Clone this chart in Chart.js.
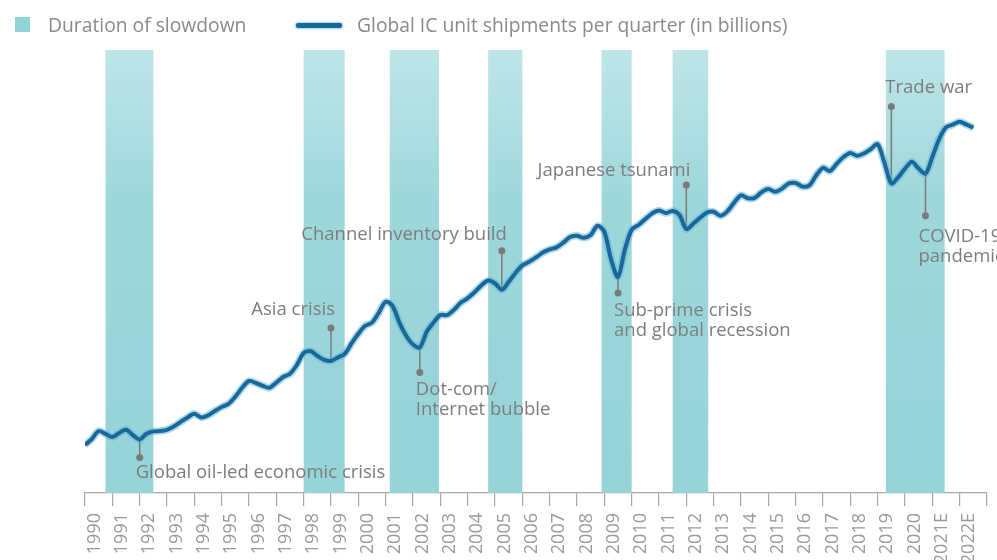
<!DOCTYPE html>
<html lang="en">
<head>
    <meta charset="UTF-8">
    <title>Global IC unit shipments</title>
    <script src="https://cdn.jsdelivr.net/npm/chart.js"></script>
    <style>
        body { margin: 0; background: #fff; font-family: 'Open Sans', sans-serif; }
        .wrap { position: relative; width: 997px; height: 560px; }
        .legend { position: absolute; top: 0; left: 0; width: 100%; height: 50px; color: #8a8a8a; font-size: 19.3px; }
        .legend span { position: absolute; line-height: 26px; top: 12px; white-space: nowrap; }
        .swatch { position: absolute; left: 15px; top: 17px; width: 15px; height: 15px; background: #8fd3d6; }
        .stroke { position: absolute; left: 296px; top: 23px; width: 46px; height: 5px; border-radius: 2px; background: #1b6898; box-shadow: 0 0 2px 1px rgba(90,180,225,0.6); }
    </style>
</head>
<body>
<div class="wrap">
    <canvas id="icChart" width="997" height="560"></canvas>
    <div class="legend">
        <div class="swatch"></div>
        <span style="left:48px">Duration of slowdown</span>
        <div class="stroke"></div>
        <span style="left:357px">Global IC unit shipments per quarter (in billions)</span>
    </div>
</div>

<script>
    // year labels on the axis
    const yearLabels = ['1990', '1991', '1992', '1993', '1994', '1995', '1996', '1997', '1998', '1999',
        '2000', '2001', '2002', '2003', '2004', '2005', '2006', '2007', '2008', '2009',
        '2010', '2011', '2012', '2013', '2014', '2015', '2016', '2017', '2018', '2019',
        '2020', '2021E', '2022E'];

    // quarterly shipments, starting 1990 Q1
    const shipments = [
        12.0, 13.5, 15.5, 14.8,   14.0, 15.0, 15.8, 14.5,   13.4, 14.8, 15.4, 15.5,   // 1990-92
        15.8, 16.6, 17.8, 18.9,   19.8, 18.9, 19.4, 20.5,   21.5, 22.3, 24.1, 26.3,   // 1993-95
        28.0, 27.5, 26.8, 26.3,   27.6, 29.0, 29.8, 32.0,   35.0, 35.5, 34.3, 33.3,   // 1996-98
        33.0, 33.9, 34.8, 37.4,   39.8, 41.8, 42.6, 45.1,   47.8, 46.8, 42.6, 39.3,   // 1999-01
        37.1, 36.4, 40.3, 42.6,   44.5, 44.5, 45.8, 47.6,   48.7, 50.2, 51.9, 53.1,   // 2002-04
        52.4, 50.8, 52.8, 55.0,   56.9, 57.8, 58.9, 60.1,   60.9, 61.4, 62.6, 64.0,   // 2005-07
        64.3, 63.8, 64.5, 66.8,   65.3, 58.3, 54.0, 60.8,   65.8, 67.0, 68.5, 69.9,   // 2008-10
        70.6, 70.0, 70.5, 69.5,   66.0, 67.3, 68.8, 70.1,   70.3, 69.3, 70.4, 72.6,   // 2011-13
        74.4, 73.7, 73.8, 75.2,   76.0, 75.3, 76.1, 77.4,   77.5, 76.6, 76.9, 79.4,   // 2014-16
        81.3, 80.5, 82.3, 84.0,   85.0, 84.3, 84.9, 86.0,   87.2, 82.5, 77.4, 78.9,   // 2017-19
        81.1, 82.8, 81.1, 79.8,   84.0, 88.5, 91.4, 92.1,   92.8, 92.1, 91.3            // 2020-22
    ];

    // slowdown periods, in fractional years
    const slowdownStart = [1990.75, 1998.0, 2001.15, 2004.75, 2008.9, 2011.5, 2019.3];
    const slowdownEnd = [1992.5, 1999.5, 2002.95, 2006.0, 2010.0, 2012.8, 2021.45];

    // events and the quarter (index into shipments) each one points at
    const eventNames = [
        ['Global oil-led economic crisis'],
        ['Asia crisis'],
        ['Dot-com/', 'Internet bubble'],
        ['Channel inventory build'],
        ['Sub-prime crisis', 'and global recession'],
        ['Japanese tsunami'],
        ['Trade war'],
        ['COVID-19', 'pandemic']
    ];
    const eventQuarter = [8, 36, 49, 61, 78, 88, 118, 123];

    // where the pin dot and the text sit relative to the curve
    const notePlacement = [
        { dot: 18, align: 'left', dx: -4, dy: 15 },
        { dot: -33, align: 'right', dx: 4, dy: -18 },
        { dot: 25, align: 'left', dx: -4, dy: 17 },
        { dot: -39, align: 'right', dx: 5, dy: -16 },
        { dot: 16, align: 'left', dx: -4, dy: 18 },
        { dot: -44, align: 'right', dx: 4, dy: -14 },
        { dot: -77, align: 'left', dx: -6, dy: -19 },
        { dot: 42, align: 'left', dx: -7, dy: 21 }
    ];

    const points = shipments.map((v, i) => ({ x: 1990 + i / 4, y: v }));

    const slowdownBands = {
        id: 'slowdownBands',
        beforeDatasetsDraw(chart) {
            const { ctx, chartArea: { top, bottom } } = chart;
            const xs = chart.scales.x2;
            const grad = ctx.createLinearGradient(0, top, 0, bottom);
            grad.addColorStop(0, '#bee5e7');
            grad.addColorStop(0.35, '#9dd7da');
            grad.addColorStop(1, '#96d4d7');
            ctx.save();
            ctx.fillStyle = grad;
            slowdownStart.forEach((s, k) => {
                const x0 = xs.getPixelForValue(s);
                const x1 = xs.getPixelForValue(slowdownEnd[k]);
                ctx.fillRect(x0, top, x1 - x0, bottom - top);
            });
            ctx.restore();
        }
    };

    const eventPins = {
        id: 'eventPins',
        beforeDatasetsDraw(chart) {
            const ctx = chart.ctx;
            const meta = chart.getDatasetMeta(0);
            ctx.save();
            ctx.font = "18.5px 'Open Sans'";
            ctx.textBaseline = 'middle';
            eventQuarter.forEach((q, k) => {
                const pt = meta.data[q];
                const p = notePlacement[k];
                const dotY = pt.y + p.dot;
                ctx.strokeStyle = '#7a7a7a';
                ctx.lineWidth = 1.5;
                ctx.beginPath();
                ctx.moveTo(pt.x, pt.y);
                ctx.lineTo(pt.x, dotY);
                ctx.stroke();
                ctx.fillStyle = '#7a7a7a';
                ctx.beginPath();
                ctx.arc(pt.x, dotY, 3.5, 0, Math.PI * 2);
                ctx.fill();
                ctx.fillStyle = '#7d7d7d';
                ctx.textAlign = p.align;
                eventNames[k].forEach((line, n) => {
                    ctx.fillText(line, pt.x + p.dx, dotY + p.dy + n * 20);
                });
            });
            ctx.restore();
        }
    };

    Chart.defaults.font.family = "'Open Sans', sans-serif";

    new Chart(document.getElementById('icChart'), {
        type: 'line',
        data: {
            labels: yearLabels,
            datasets: [{
                data: points,
                xAxisID: 'x2',
                borderColor: '#1b6898',
                borderWidth: 4,
                pointRadius: 0,
                tension: 0.3,
                fill: false
            }, {
                // soft halo under the main line
                data: points,
                xAxisID: 'x2',
                borderColor: 'rgba(90,180,225,0.5)',
                borderWidth: 7.5,
                pointRadius: 0,
                tension: 0.3,
                fill: false
            }]
        },
        options: {
            responsive: false,
            animation: false,
            layout: { padding: { left: 85, right: 10, top: 50, bottom: 0 } },
            plugins: { legend: { display: false }, tooltip: { enabled: false } },
            scales: {
                x: {
                    type: 'category',
                    offset: true,
                    grid: { drawOnChartArea: false, drawTicks: true, tickLength: 13, color: '#a8a8a8', lineWidth: 1.2, offset: true },
                    border: { display: true, color: '#a8a8a8', width: 1.2 },
                    ticks: { color: '#9a9a9a', font: { size: 18 }, minRotation: 90, maxRotation: 90, padding: 7, labelOffset: -4, autoSkip: false },
                    afterFit(scale) {
                        // fixed axis band; rotated labels must not push the plot inward
                        scale.height = 67;
                        scale.paddingLeft = 0;
                        scale.paddingRight = 0;
                    }
                },
                x2: { type: 'linear', display: false, min: 1990, max: 2023 },
                y: { display: false, min: 0, max: 110.75 }
            }
        },
        plugins: [slowdownBands, eventPins]
    });
</script>
</body>
</html>
